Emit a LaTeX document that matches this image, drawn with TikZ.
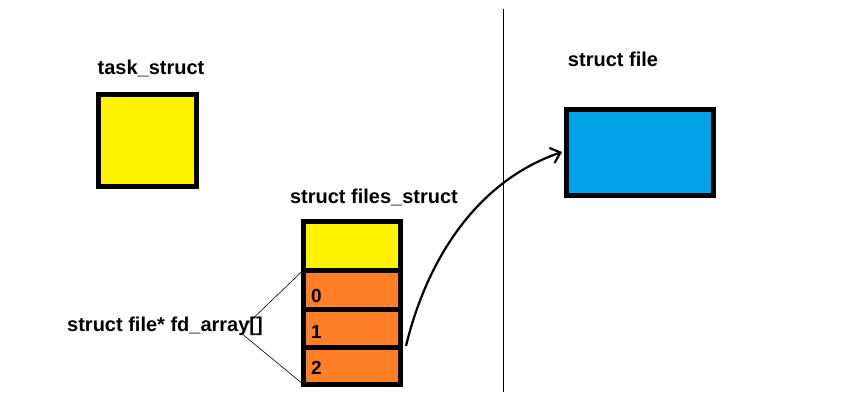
\documentclass[tikz,border=0pt]{standalone}
\usepackage{fontspec}
\setmainfont{Liberation Sans}
\usetikzlibrary{arrows.meta}
\definecolor{pyellow}{HTML}{FFF200}
\definecolor{porange}{HTML}{FF7F27}
\definecolor{pblue}{HTML}{00A2E8}
\tikzset{
  box/.style={draw=black, line width=5pt, inner sep=0pt, outer sep=0pt},
  lbl/.style={font=\fontsize{20}{23}\selectfont\bfseries, inner sep=0pt},
  num/.style={font=\fontsize{19}{22}\selectfont\bfseries, inner sep=0pt, anchor=west},
  thin/.style={line width=0.6pt},
}
\begin{document}
\begin{tikzpicture}[x=1pt,y=-1pt]
\useasboundingbox (0,0) rectangle (868,404);
% task_struct
\node[box, fill=pyellow, minimum width=98pt, minimum height=92pt] (task) at (147.5,140.5) {};
\node[lbl] (tasklbl) at (151,68) {task\_struct};
% files_struct
\node[box, fill=pyellow, minimum width=97pt, minimum height=48.5pt] (fhead) at (352,245.75) {};
\node[box, fill=porange, minimum width=97pt, minimum height=39pt] (r0) at (352,289.5) {};
\node[box, fill=porange, minimum width=97pt, minimum height=38pt] (r1) at (352,328) {};
\node[box, fill=porange, minimum width=97pt, minimum height=37.5pt] (r2) at (352,365.75) {};
\node[num] (n0) at (311,296) {0};
\node[num] (n1) at (311,332) {1};
\node[num] (n2) at (311,368) {2};
\node[lbl] (fileslbl) at (374,197) {struct files\_struct};
% fd_array label
\node[lbl] (fdlbl) at (165,326) {struct file* fd\_array[]};
\coordinate (m1) at (245,326);
\coordinate (m2) at (241,333);
\draw[thin] (r0.north west) -- (m1);
\draw[thin] (m2) -- (r2.south west);
% divider
\coordinate (vtop) at (503,9);
\coordinate (vbot) at (503,392);
\draw[line width=1pt] (vtop) -- (vbot);
% struct file
\node[box, fill=pblue, minimum width=147pt, minimum height=86pt] (sfile) at (640,152.5) {};
\node[lbl] (sfilelbl) at (613,59) {struct file};
% arrow
\coordinate (astart) at (406,346);
\coordinate (aend) at (562,152);
\draw[line width=2.2pt, -{Straight Barb[length=9pt,width=16pt,line width=2.2pt]}] (astart) .. controls (428,255) and (480,180) .. (aend);
\end{tikzpicture}
\end{document}
